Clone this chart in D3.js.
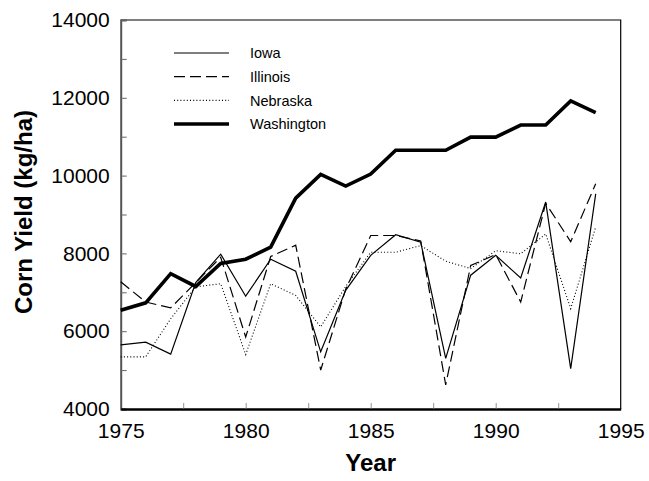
<!DOCTYPE html>
<html><head><meta charset="utf-8">
<script src="https://cdn.jsdelivr.net/npm/d3@7"></script>
<style>
html,body{margin:0;padding:0;background:#fff;}
svg{display:block;}
text{font-family:Arial,"Liberation Sans",Helvetica,sans-serif;fill:#000;}
</style></head>
<body>
<svg id="chart" width="649" height="481"></svg>
<script>
const years = [1975,1976,1977,1978,1979,1980,1981,1982,1983,1984,1985,1986,1987,1988,1989,1990,1991,1992,1993,1994];
const iowa = [5650,5720,5410,7250,7980,6900,7850,7540,5470,7050,7950,8480,8290,5300,7440,7950,7370,9320,5040,9530];
const illinois = [7270,6750,6600,7250,7900,5850,7920,8210,5000,7080,8460,8460,8320,4620,7690,7970,6750,9290,8300,9790];
const nebraska = [5340,5340,6320,7140,7220,5400,7220,6920,6110,7150,8030,8030,8200,7800,7610,8070,7990,8500,6580,8680];
const washington = [6540,6730,7480,7150,7740,7850,8160,9420,10030,9730,10040,10650,10650,10650,10990,10990,11300,11300,11920,11620];
const seriesNames = ["Iowa","Illinois","Nebraska","Washington"];
const xTickLabels = [1975,1980,1985,1990,1995];
const xMinorTicks = [1977.5,1980,1982.5,1985,1987.5,1990,1992.5];
const yTickLabels = [4000,6000,8000,10000,12000,14000];
const yMinorTicks = [5000,7000,9000,11000,13000];

const seriesData = [iowa, illinois, nebraska, washington];
const styles = [
  {w:1.2, dash:null},
  {w:1.2, dash:"11,5"},
  {w:1.1, dash:"1,2.2"},
  {w:3.6, dash:null}
];

const L = 120.7, R = 620.7, T = 20, B = 409;
const x = d3.scaleLinear().domain([1975,1995]).range([L,R]);
const y = d3.scaleLinear().domain([4000,14000]).range([B,T]);
const svg = d3.select("#chart");

// frame top/right
svg.append("path").attr("d",`M${L},${T}H${R}V${B}`).attr("fill","none").attr("stroke","#000").attr("stroke-width",1.2);

// y axis
const ya = svg.append("g").attr("transform",`translate(${L},0)`)
  .call(d3.axisLeft(y).tickValues(yTickLabels).tickSize(-6).tickPadding(11).tickFormat(d=>String(d)));
ya.select(".domain").attr("stroke","#555").attr("stroke-width",2);
ya.selectAll(".tick line").attr("stroke","#666").attr("stroke-width",1);
ya.selectAll(".tick text").attr("font-size",21).attr("font-family","Arial, 'Liberation Sans', sans-serif").attr("fill","#000");
const ym = svg.append("g").attr("transform",`translate(${L},0)`)
  .call(d3.axisLeft(y).tickValues(yMinorTicks).tickSize(-6).tickFormat(""));
ym.select(".domain").remove();
ym.selectAll(".tick line").attr("stroke","#666").attr("stroke-width",1);

// x axis
const xa = svg.append("g").attr("transform",`translate(0,${B})`)
  .call(d3.axisBottom(x).tickValues(xTickLabels).tickSize(0).tickPadding(14).tickFormat(d=>String(d)));
xa.select(".domain").attr("stroke","#000").attr("stroke-width",2.6);
xa.selectAll(".tick text").attr("font-size",21).attr("font-family","Arial, 'Liberation Sans', sans-serif").attr("fill","#000");
const xm = svg.append("g").attr("transform",`translate(0,${B})`)
  .call(d3.axisBottom(x).tickValues(xMinorTicks).tickSize(-6).tickFormat(""));
xm.select(".domain").remove();
xm.selectAll(".tick line").attr("stroke","#777").attr("stroke-width",0.8);

// lines
const line = d3.line().x((d,i)=>x(years[i])).y(d=>y(d));
seriesData.forEach((s,k)=>{
  svg.append("path").datum(s).attr("d",line).attr("fill","none")
    .attr("stroke","#000").attr("stroke-width",styles[k].w)
    .attr("stroke-dasharray",styles[k].dash).attr("stroke-linejoin","miter");
});

// legend
const legY = d3.scalePoint().domain(seriesNames).range([53,124]);
seriesNames.forEach((n,k)=>{
  svg.append("line").attr("x1",174).attr("x2",229).attr("y1",legY(n)).attr("y2",legY(n))
    .attr("stroke","#000").attr("stroke-width",styles[k].w).attr("stroke-dasharray",styles[k].dash);
  svg.append("text").attr("x",250).attr("y",legY(n)).attr("dy","0.36em")
    .attr("font-size",14.5).text(n);
});

// titles
svg.append("text").attr("x",(L+R)/2).attr("y",471).attr("text-anchor","middle")
  .attr("font-size",24).attr("font-weight","bold").text("Year");
svg.append("text").attr("transform","translate(32,212) rotate(-90)").attr("text-anchor","middle")
  .attr("font-size",24).attr("font-weight","bold").text("Corn Yield (kg/ha)");
</script>
</body></html>
